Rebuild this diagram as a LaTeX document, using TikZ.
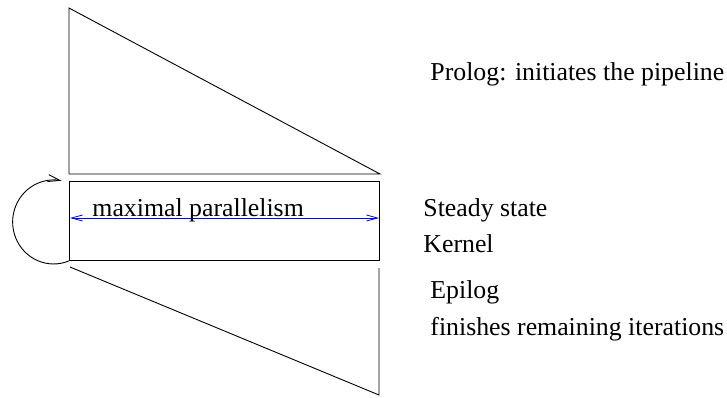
\documentclass[tikz,border=0pt]{standalone}
\usepackage{fontspec}
\setmainfont{Liberation Serif}
\usetikzlibrary{arrows.meta}
\begin{document}
\begin{tikzpicture}[x=1pt,y=-1pt, line width=0.9pt,
  lbl/.style={anchor=base west, inner sep=0pt, font=\fontsize{25.8}{30}\selectfont},
  outline/.style={draw=black, line join=miter},
  tipb/.style={{Straight Barb[length=11pt,width=6pt]}-{Straight Barb[length=11pt,width=6pt]}},
  tipe/.style={-{Straight Barb[length=12pt,width=7pt]}}
]
\useasboundingbox (0,0) rectangle (727,397);
% prolog triangle
\draw[outline] (69,8) -- (380,174) -- (69,174) -- cycle;
% kernel rectangle
\node[outline, inner sep=0pt, minimum width=310pt, minimum height=79pt, anchor=north west] (kernel) at (69,181) {};
% epilog shape
\draw[outline] (70,267) -- (379,395) -- (379,268);
% maximal parallelism arrow
\coordinate (mpl) at (70,218);
\coordinate (mpr) at (379,218);
\draw[blue, line width=0.8pt, tipb] (mpl) -- (mpr);
\node[lbl] (mp) at (92,216) {maximal parallelism};
% loop
\draw[tipe] (kernel.south west) arc[start angle=68, end angle=281, x radius=41, y radius=42];
% labels
\node[lbl] (prolog) at (430,80) {Prolog: initiates the pipeline};
\node[lbl] (steady) at (423,216) {Steady state};
\node[lbl] (kern) at (423,252) {Kernel};
\node[lbl] (epilog) at (430,298) {Epilog};
\node[lbl] (fin) at (430,335) {finishes remaining iterations};
\end{tikzpicture}
\end{document}
